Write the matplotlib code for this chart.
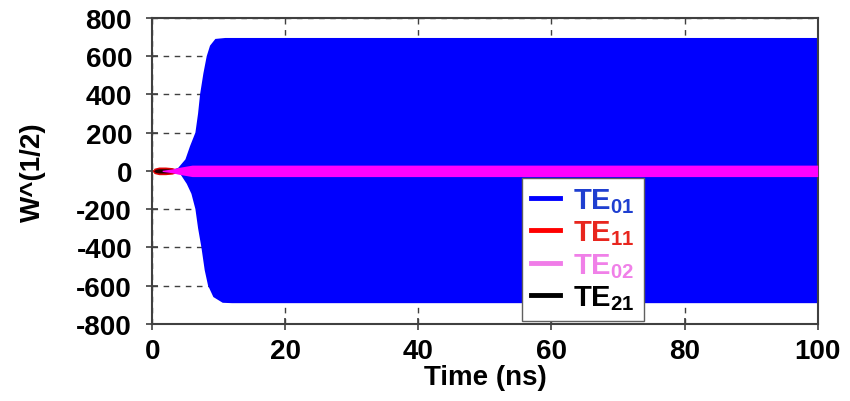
import numpy as np
import matplotlib
matplotlib.use("Agg")
import matplotlib.pyplot as plt
from matplotlib.lines import Line2D

plt.rcParams['font.family'] = ['Liberation Sans', 'DejaVu Sans']
plt.rcParams['font.weight'] = 'bold'
plt.rcParams['axes.unicode_minus'] = False
plt.rcParams['mathtext.fontset'] = 'custom'
plt.rcParams['mathtext.rm'] = 'Liberation Sans:bold'
plt.rcParams['mathtext.bf'] = 'Liberation Sans:bold'

# TE01 envelope (upper / lower edge of the dense oscillation)
t_up = [2.5, 3.9, 5.0, 5.7, 6.5, 6.9, 7.2, 7.7, 8.2, 8.7, 9.5, 11.0, 100.0]
te01_up = [0, 15, 60, 130, 200, 300, 400, 510, 600, 655, 690, 695, 695]
t_lo = [2.5, 4.2, 5.2, 5.9, 6.5, 6.9, 7.4, 7.9, 8.4, 9.2, 10.6, 12.0, 100.0]
te01_lo = [0, -15, -68, -120, -200, -300, -400, -520, -600, -660, -690, -692, -692]

# TE11 / TE21 small start-up loop
t_red = [0.0, 0.3, 1.0, 2.0, 3.0, 3.8]
te11_amp = [0, 14, 20, 20, 17, 8]
t_blk = [0.2, 0.5, 1.0, 2.0, 3.0, 3.5]
te21_amp = [0, 8, 11, 11, 9, 4]

# TE02 band around zero
t_pink = [1.5, 3.0, 4.0, 5.0, 6.0, 100.0]
te02_amp = [3, 10, 18, 24, 30, 30]

labels = ['TE$_{01}$', 'TE$_{11}$', 'TE$_{02}$', 'TE$_{21}$']
line_colors = ['#0000ff', '#ff0000', '#f07ce8', '#000000']
text_colors = ['#1f3fd0', '#e8261e', '#f080e8', '#000000']

fig = plt.figure(figsize=(8.5, 4.02), dpi=100)
ax = fig.add_axes([0.179, 0.192, 0.783, 0.761])

ax.fill(np.r_[t_up, t_lo[::-1]], np.r_[te01_up, te01_lo[::-1]],
        color='#0000ff', lw=0, zorder=2)
ax.fill_between(t_red, -np.array(te11_amp), te11_amp, color='#e00000', lw=0, zorder=3)
ax.fill_between(t_blk, -np.array(te21_amp), te21_amp, color='#200000', lw=0, zorder=3)
ax.fill_between(t_pink, -np.array(te02_amp), te02_amp, color='#ff00ff', lw=0, zorder=4)

ax.set_xlim(0, 100)
ax.set_ylim(-800, 800)
ax.set_xticks(range(0, 101, 20))
ax.set_yticks(range(-800, 801, 200))
ax.grid(True, color='#404040', linestyle=(0, (4, 4)), linewidth=1.0, zorder=0)
ax.set_axisbelow(True)
ax.tick_params(direction='inout', length=9, width=1.2, color='#404040',
               labelsize=20, pad=6)
ax.tick_params(axis='y', pad=10)
for s in ax.spines.values():
    s.set_color('#404040')
    s.set_linewidth(1.5)

ax.set_xlabel('Time (ns)', fontsize=20, fontweight='bold', labelpad=0)
ax.set_ylabel('W^(1/2)', fontsize=20, fontweight='bold', labelpad=22)

handles = [Line2D([0], [0], color=c, lw=3.5) for c in line_colors]
leg = ax.legend(handles, labels, loc='lower left', bbox_to_anchor=(0.556, 0.01),
                fontsize=21, handlelength=1.0, handletextpad=0.45,
                labelspacing=0.12, borderpad=0.3, borderaxespad=0,
                fancybox=False, framealpha=1, edgecolor='#606060')
leg.get_frame().set_linewidth(1.0)
leg.set_zorder(10)
for txt, c in zip(leg.get_texts(), text_colors):
    txt.set_color(c)

fig.savefig('out.png', dpi=100)
